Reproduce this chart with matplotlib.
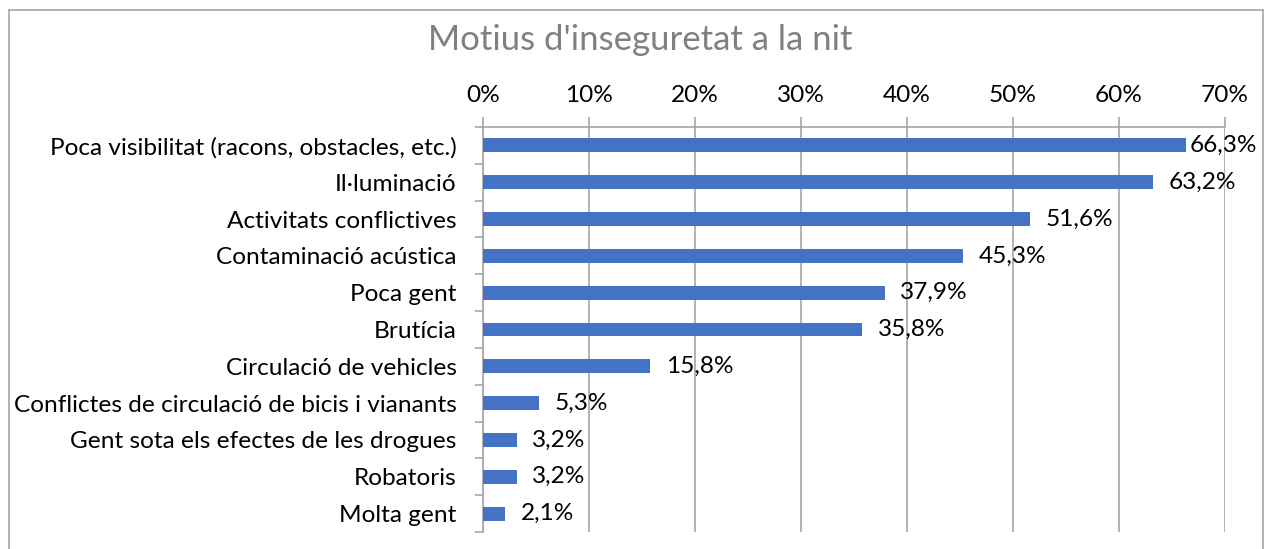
import matplotlib.pyplot as plt
import matplotlib.patches as patches
import numpy as np

plt.rcParams['font.family'] = ['Lato', 'DejaVu Sans']

# data
categories = [
    'Poca visibilitat (racons, obstacles, etc.)',
    'Il·luminació',
    'Activitats conflictives',
    'Contaminació acústica',
    'Poca gent',
    'Brutícia',
    'Circulació de vehicles',
    'Conflictes de circulació de bicis i vianants',
    'Gent sota els efectes de les drogues',
    'Robatoris',
    'Molta gent',
]
values = [66.3, 63.2, 51.6, 45.3, 37.9, 35.8, 15.8, 5.3, 3.2, 3.2, 2.1]
xticks = [0, 10, 20, 30, 40, 50, 60, 70]

W, H = 1265, 549
fig = plt.figure(figsize=(W / 100, H / 100), dpi=100)

# outer chart border
fig.patches.append(patches.Rectangle((9 / W, -0.05), (1263 - 9) / W, 1.05 - 10 / H,
                                     transform=fig.transFigure, fill=False,
                                     edgecolor='#a6a6a6', linewidth=1.2))

ax = fig.add_axes([483 / W, 1 - 532 / H, (1225 - 483) / W, (532 - 127) / H])

grid_col = '#a6a6a6'
fs = 17.6
ypos = np.arange(len(categories))
ax.barh(ypos, values, height=0.38, color='#4472c4', zorder=3)

for i, v in enumerate(values):
    off = 3 if v > 65 else 11
    ax.annotate(f'{v:.1f}%'.replace('.', ','), (v, i), xytext=(off, 0),
                textcoords='offset points', va='center', ha='left',
                fontsize=fs, color='black', zorder=4)

ax.set_xlim(0, 70)
ax.set_ylim(len(categories) - 0.5, -0.5)
ax.set_xticks(xticks)
ax.set_xticklabels([f'{t}%' for t in xticks], fontsize=fs)
ax.xaxis.tick_top()
ax.tick_params(axis='x', which='major', length=7, width=1.2, color=grid_col, pad=8)

ax.set_yticks(ypos)
ax.set_yticklabels(categories, fontsize=fs)
ax.set_yticks(np.arange(len(categories) + 1) - 0.5, minor=True)
ax.tick_params(axis='y', which='major', length=0, pad=19)
ax.tick_params(axis='y', which='minor', length=6, width=1.2, color=grid_col)

ax.grid(axis='x', color=grid_col, linewidth=1.2, zorder=0)
for s in ['right', 'bottom']:
    ax.spines[s].set_visible(False)
ax.spines['top'].set_color(grid_col)
ax.spines['top'].set_linewidth(1.2)
ax.spines['left'].set_color(grid_col)
ax.spines['left'].set_linewidth(1.2)

fig.text(640 / W, 1 - 40 / H, "Motius d'inseguretat a la nit", ha='center', va='center',
         fontsize=25, color='#808080')

fig.savefig('out.png', dpi=100)
